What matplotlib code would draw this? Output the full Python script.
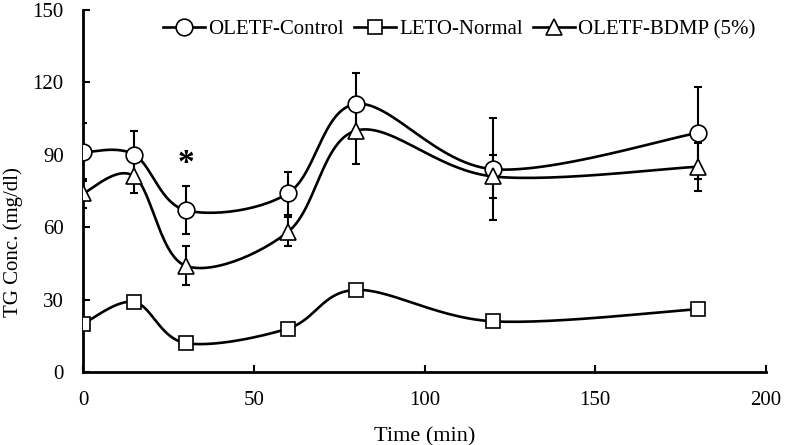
import numpy as np
import matplotlib
matplotlib.use("Agg")
from matplotlib import pyplot as plt

# data
time_min = [0, 15, 30, 60, 80, 120, 180]
oletf_control = [91, 90, 67, 74, 111, 84, 99]
oletf_control_err = [12, 10, 10, 9, 13, 21, 19]
leto_normal = [20, 29, 12, 18, 34, 21, 26]
oletf_bdmp = [74, 81, 44, 58, 100, 81, 85]
oletf_bdmp_err = [6, 7, 8, 6, 14, 9, 10]
series_names = ["OLETF-Control", "LETO-Normal", "OLETF-BDMP (5%)"]


def smooth(x, y, steps=30):
    """Catmull-Rom style bezier smoothing, similar to spreadsheet 'smoothed line'."""
    x = np.asarray(x, float)
    y = np.asarray(y, float)
    px = np.concatenate([[x[0]], x, [x[-1]]])
    py = np.concatenate([[y[0]], y, [y[-1]]])
    xs, ys = [], []
    t = np.linspace(0, 1, steps)
    for i in range(1, len(px) - 2):
        p0 = np.array([px[i], py[i]])
        p3 = np.array([px[i + 1], py[i + 1]])
        p1 = p0 + (np.array([px[i + 1], py[i + 1]]) - np.array([px[i - 1], py[i - 1]])) / 6
        p2 = p3 - (np.array([px[i + 2], py[i + 2]]) - np.array([px[i], py[i]])) / 6
        b = ((1 - t) ** 3)[:, None] * p0 + (3 * (1 - t) ** 2 * t)[:, None] * p1 \
            + (3 * (1 - t) * t ** 2)[:, None] * p2 + (t ** 3)[:, None] * p3
        xs.extend(b[:, 0])
        ys.extend(b[:, 1])
    return np.array(xs), np.array(ys)


plt.rcParams["font.family"] = ["Liberation Serif", "DejaVu Serif"]
fig = plt.figure(figsize=(7.92, 4.45), dpi=100)
ax = fig.add_axes([0.105, 0.164, 0.862, 0.814])

styles = [
    (oletf_control, oletf_control_err, "o", 12),
    (leto_normal, None, "s", 9.5),
    (oletf_bdmp, oletf_bdmp_err, "^", 11),
]
for (vals, err, mk, ms), name in zip(styles, series_names):
    if err is not None:
        ax.errorbar(time_min, vals, yerr=err, fmt="none", ecolor="black",
                    elinewidth=1.5, capsize=3, capthick=1.5, zorder=2)
    sx, sy = smooth(time_min, vals)
    ax.plot(sx, sy, color="black", lw=1.9, zorder=3)
    ax.plot(time_min, vals, linestyle="none", marker=mk, markersize=ms,
            markerfacecolor="white", markeredgecolor="black",
            markeredgewidth=1.2, zorder=4)
    ax.plot([], [], color="black", lw=1.9, marker=mk, markersize=ms,
            markerfacecolor="white", markeredgecolor="black",
            markeredgewidth=1.2, label=name)

ax.text(30, 80, "*", ha="center", va="bottom", fontsize=24, fontweight="bold")

ax.set_xlim(0, 200)
ax.set_ylim(0, 150)
ax.set_xticks([0, 50, 100, 150, 200])
ax.set_yticks([0, 30, 60, 90, 120, 150])
ax.tick_params(direction="in", length=5, width=1.5, labelsize=15)
ax.tick_params(axis="y", pad=14)
ax.tick_params(axis="x", pad=14)
for side in ["top", "right"]:
    ax.spines[side].set_visible(False)
for side in ["left", "bottom"]:
    ax.spines[side].set_linewidth(2)
ax.set_xlabel("Time (min)", fontsize=16, labelpad=12)
ax.set_ylabel("TG Conc. (mg/dl)", fontsize=15)
ax.yaxis.set_label_coords(-0.088, 0.36)

ax.legend(loc="upper left", bbox_to_anchor=(0.09, 1.025), ncol=3, frameon=False,
          fontsize=15, handlelength=2.0, columnspacing=0.5, handletextpad=0.15)

fig.savefig("out.png", dpi=100)
